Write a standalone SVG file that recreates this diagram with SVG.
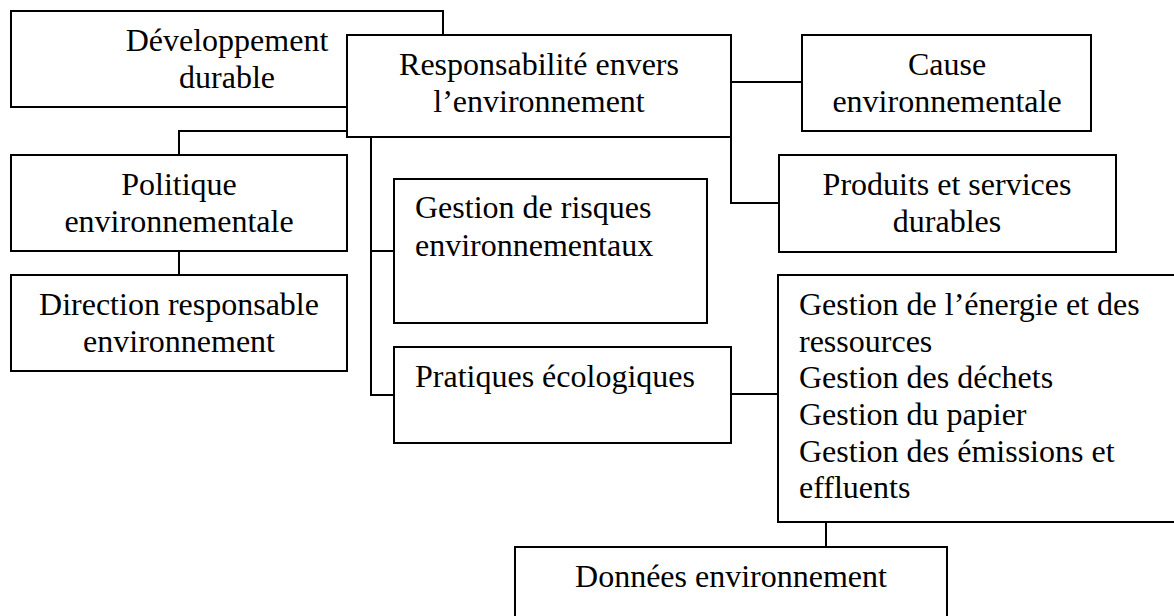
<svg xmlns="http://www.w3.org/2000/svg" width="1174" height="616" viewBox="0 0 1174 616">
<style>
  .box { fill: #ffffff; stroke: #000000; stroke-width: 2; }
  .conn { fill: none; stroke: #000000; stroke-width: 2; }
  text { font-family: "Liberation Serif", "Times New Roman", serif; font-size: 32px; fill: #000000; }
  .c { text-anchor: middle; }
</style>
<rect width="1174" height="616" fill="#ffffff"/>
<g id="connectors">
  <path class="conn" d="M179,155 V131 H347"/>
  <path class="conn" d="M179,251 V275"/>
  <path class="conn" d="M371,137 V395 H394"/>
  <path class="conn" d="M371,251 H394"/>
  <path class="conn" d="M731,394 H778"/>
  <path class="conn" d="M731,82 H802"/>
  <path class="conn" d="M731,137 V203 H779"/>
  <path class="conn" d="M826,522 V547"/>
</g>
<g id="developpement">
  <rect class="box" x="11" y="11" width="432" height="96"/>
  <text class="c" x="227" y="51">Développement</text>
  <text class="c" x="227" y="88">durable</text>
</g>
<g id="responsabilite">
  <rect class="box" x="347" y="35" width="384" height="102"/>
  <text class="c" x="539" y="75">Responsabilité envers</text>
  <text class="c" x="539" y="112">l’environnement</text>
</g>
<g id="cause">
  <rect class="box" x="802" y="35" width="289" height="96"/>
  <text class="c" x="947" y="75">Cause</text>
  <text class="c" x="947" y="112">environnementale</text>
</g>
<g id="produits">
  <rect class="box" x="779" y="155" width="337" height="97"/>
  <text class="c" x="947" y="195">Produits et services</text>
  <text class="c" x="947" y="232">durables</text>
</g>
<g id="politique">
  <rect class="box" x="11" y="155" width="336" height="96"/>
  <text class="c" x="179" y="195">Politique</text>
  <text class="c" x="179" y="232">environnementale</text>
</g>
<g id="direction">
  <rect class="box" x="11" y="275" width="336" height="96"/>
  <text class="c" x="179" y="315">Direction responsable</text>
  <text class="c" x="179" y="352">environnement</text>
</g>
<g id="risques">
  <rect class="box" x="394" y="179" width="313" height="144"/>
  <text x="415" y="218">Gestion de risques</text>
  <text x="415" y="256">environnementaux</text>
</g>
<g id="pratiques">
  <rect class="box" x="394" y="347" width="337" height="96"/>
  <text x="415" y="387">Pratiques écologiques</text>
</g>
<g id="gestion">
  <rect class="box" x="778" y="275" width="402" height="247"/>
  <text x="799" y="315">Gestion de l’énergie et des</text>
  <text x="799" y="352">ressources</text>
  <text x="799" y="388">Gestion des déchets</text>
  <text x="799" y="425">Gestion du papier</text>
  <text x="799" y="462">Gestion des émissions et</text>
  <text x="799" y="498">effluents</text>
</g>
<g id="donnees">
  <rect class="box" x="515" y="547" width="432" height="80"/>
  <text class="c" x="731" y="587">Données environnement</text>
</g>
</svg>
